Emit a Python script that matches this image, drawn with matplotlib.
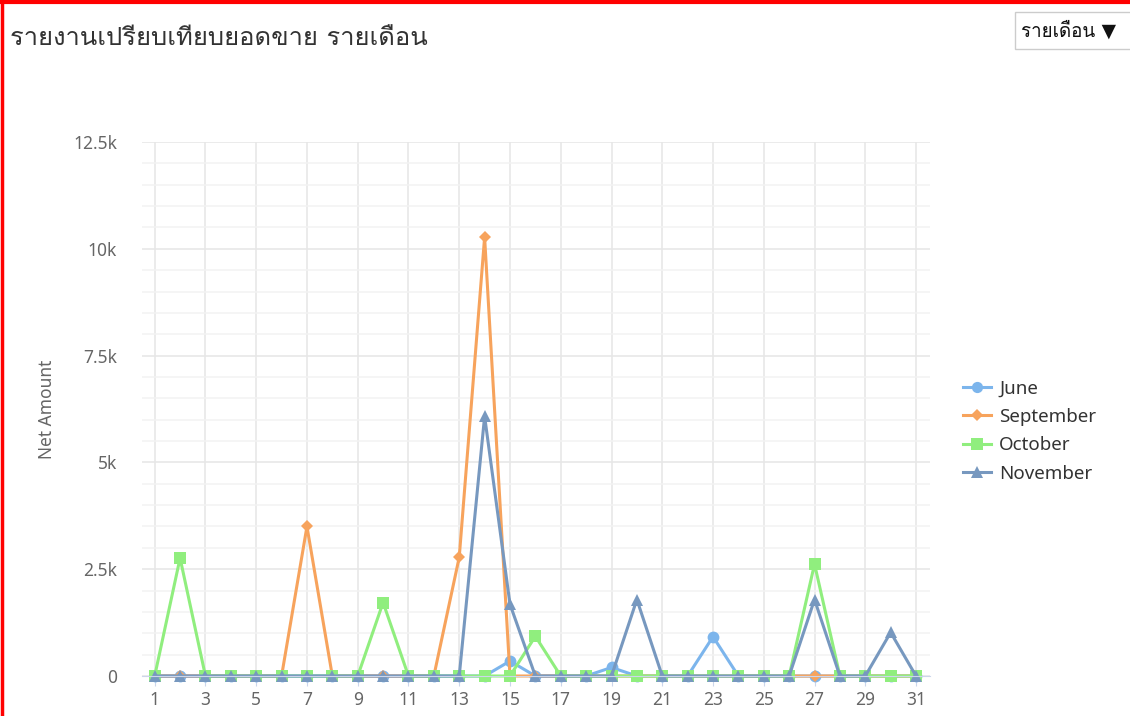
import matplotlib
matplotlib.use("Agg")
import matplotlib.pyplot as plt
from matplotlib import font_manager
from matplotlib.ft2font import FT2Font
from matplotlib.patches import Rectangle
from matplotlib.lines import Line2D

# data (net amount per day of month)
days = list(range(1, 32))
june = [0, 0, 0, 0, 0, 0, 0, 0, 0, 0, 0, 0, 0, 0, 350, 0, 0, 0, 200, 0,
        0, 0, 920, 0, 0, 0, 0, 0, 0, 0, 0]
september = [0, 0, 0, 0, 0, 0, 3500, 0, 0, 0, 0, 0, 2780, 10270, 0, 0, 0, 0, 0, 0,
             0, 0, 0, 0, 0, 0, 0, 0, 0, 0, 0]
october = [0, 2760, 0, 0, 0, 0, 0, 0, 0, 1720, 0, 0, 0, 0, 0, 930, 0, 0, 0, 0,
           0, 0, 0, 0, 0, 0, 2620, 0, 0, 0, 0]
november = [0, 0, 0, 0, 0, 0, 0, 0, 0, 0, 0, 0, 0, 6080, 1680, 0, 0, 0, 0, 1790,
            0, 0, 0, 0, 0, 0, 1790, 0, 0, 1020, 0]
series_names = ["June", "September", "October", "November"]
y_ticks = [0, 2500, 5000, 7500, 10000, 12500]
y_tick_labels = ["0", "2.5k", "5k", "7.5k", "10k", "12.5k"]
x_ticks = list(range(1, 32, 2))

title = "รายงานเปรียบเทียบยอดขาย รายเดือน"
dropdown = "รายเดือน ▼"


def find_thai_font():
    # pick the first installed family that has Thai glyphs
    for fe in font_manager.fontManager.ttflist:
        try:
            if 0x0E23 in FT2Font(fe.fname).get_charmap() and fe.weight in (400, "normal", "regular"):
                return fe.name
        except Exception:
            pass
    return "DejaVu Sans"


thai = find_thai_font()
fams = [thai, "DejaVu Sans"]
plt.rcParams["font.family"] = ["Noto Sans", "DejaVu Sans"]

fig = plt.figure(figsize=(11.3, 7.16), dpi=100)
ax = fig.add_axes([142 / 1130, 1 - 676 / 716, (930 - 142) / 1130, (676 - 142) / 716])

styles = [
    ("#7cb5ec", "o", 8.5),
    ("#f7a35c", "D", 6.5),
    ("#90ee7e", "s", 8.7),
    ("#7798bf", "^", 9.0),
]
for name, vals, (c, m, ms) in zip(series_names, [june, september, october, november], styles):
    ax.plot(days, vals, color=c, marker=m, markersize=ms, linewidth=2.2,
            markeredgewidth=0, label=name, clip_on=False)

ax.set_xlim(0.5, 31.55)
ax.set_ylim(0, 12500)
ax.set_yticks(y_ticks)
ax.set_yticklabels(y_tick_labels)
ax.set_yticks(range(0, 12501, 500), minor=True)
ax.set_xticks(x_ticks)
ax.set_xticklabels([str(d) for d in x_ticks])

ax.grid(axis="y", which="major", color="#e6e6e6", linewidth=1.1, zorder=0)
ax.grid(axis="y", which="minor", color="#f2f2f2", linewidth=1.1, zorder=0)
ax.grid(axis="x", which="major", color="#e6e6e6", linewidth=1.1, zorder=0)
ax.set_axisbelow(True)
for s in ["top", "right", "left"]:
    ax.spines[s].set_visible(False)
ax.spines["bottom"].set_color("#ccd6eb")
ax.tick_params(axis="y", which="both", length=0, labelsize=12.5, labelcolor="#666666", pad=18)
ax.tick_params(axis="x", length=7, width=0.8, color="#ccd6eb", labelsize=12.5,
               labelcolor="#666666", pad=3.5)
ax.set_ylabel("Net Amount", fontsize=12.5, color="#666666", labelpad=12)

leg = ax.legend(loc="upper left", bbox_to_anchor=(955 / 1130, 1 - 372 / 716),
                bbox_transform=fig.transFigure, frameon=False, fontsize=13.5,
                borderaxespad=0, handlelength=1.5, handletextpad=0.45,
                labelspacing=0.56, markerscale=0.95)
for t in leg.get_texts():
    t.set_color("#333333")

fig.text(10 / 1130, 1 - 38 / 716, title, family=fams, fontsize=18.4, color="#333333",
         va="center", ha="left")

# dropdown box top right
fig.patches.append(Rectangle((1015 / 1130, 1 - 49 / 716), 120 / 1130, 37 / 716,
                             transform=fig.transFigure, facecolor="white",
                             edgecolor="#cccccc", linewidth=1))
fig.text(1021 / 1130, 1 - 31 / 716, dropdown, family=fams, fontsize=13.5, color="#111111",
         va="center", ha="left")

# red frame along top and left
fig.add_artist(Line2D([0, 1], [1 - 2 / 716, 1 - 2 / 716], transform=fig.transFigure,
                      color="#ff0000", linewidth=3))
fig.add_artist(Line2D([2 / 1130, 2 / 1130], [0, 1], transform=fig.transFigure,
                      color="#ff0000", linewidth=2.5))

fig.savefig("out.png", dpi=100)
